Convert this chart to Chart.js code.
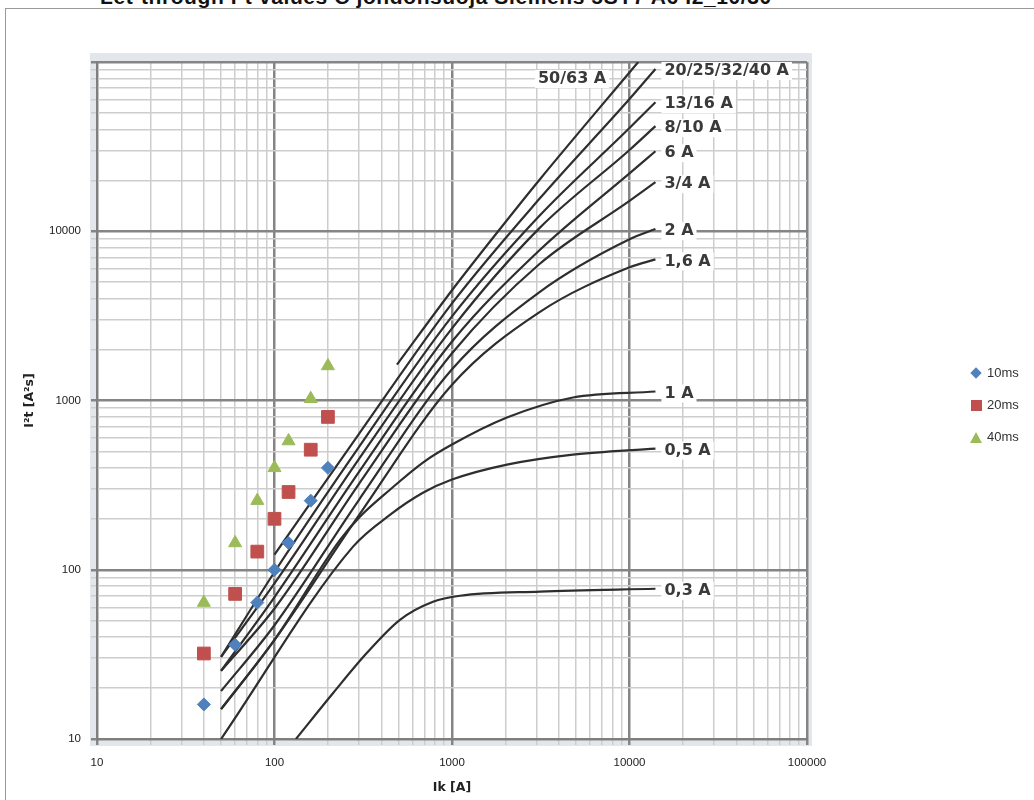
<!DOCTYPE html>
<html>
<head>
<meta charset="utf-8">
<script src="https://cdn.jsdelivr.net/npm/chart.js@4.4.0/dist/chart.umd.min.js"></script>
<style>
    body { margin: 0; background: #fff; overflow: hidden; }
    #contenedor { position: relative; width: 1034px; height: 800px; overflow: hidden; }
    #marco { position: absolute; left: 5px; top: 8px; width: 1100px; height: 900px; border: 1px solid #9a9a9a; }
    #titulo { position: absolute; left: 100px; top: -14px; font: bold 21px "Liberation Sans", Arial, sans-serif; line-height: 21px; letter-spacing: 0.6px; white-space: nowrap; color: #111; }
    canvas { position: absolute; left: 0; top: 0; }
    #leyenda { position: absolute; left: 969px; top: 364px; font: 13px "Liberation Sans", Arial, sans-serif; color: #333; }
    #leyenda .item { position: relative; height: 32px; line-height: 18px; padding-left: 18px; }
    #leyenda .mk { position: absolute; }
    .diamante { left: 3px; top: 5px; width: 8px; height: 8px; background: #4F81BD; transform: rotate(45deg); }
    .cuadrado { left: 1.5px; top: 3.5px; width: 11px; height: 11px; background: #C0504D; }
    .triangulo { left: 1px; top: 3.5px; width: 0; height: 0; border-left: 6px solid transparent; border-right: 6px solid transparent; border-bottom: 11px solid #9BBB59; }
</style>
</head>
<body>
<div id="contenedor">
    <div id="marco"></div>
    <div id="titulo">Let-through I²t values C johdonsuoja Siemens 5SY7 A6 I2_10/30</div>
    <canvas id="grafico" width="1034" height="800"></canvas>
    <div id="leyenda"></div>
</div>
<script>
// Ejes: etiquetas de las décadas
const decadas = [10, 100, 1000, 10000, 100000];

// Puntos medidos (Ik en A, I²t en A²s)
const ikMedidos = [40, 60, 80, 100, 120, 160, 200];
const serie10ms = [16, 36, 64, 100, 144, 256, 400];
const serie20ms = [32, 72, 128, 200, 288, 512, 800];
const serie40ms = [64, 144, 256, 400, 576, 1024, 1600];
const nombresSeries = ['10ms', '20ms', '40ms'];

// Curvas del fabricante
const ik5063 = [490, 1000, 1820, 3130, 11200];
const i2t5063 = [1630, 4480, 10000, 20300, 100000];
const ik2040 = [100, 300, 1000, 3100, 10000, 14000];
const i2t2040 = [123, 638, 3750, 15500, 60400, 90900];
const ikBase = [50, 100, 300, 1000, 3100, 10000, 14000];
const i2t1316 = [30.6, 97, 534, 3140, 12300, 40700, 57900];
const i2t810 = [30.6, 83, 454, 2670, 10400, 30200, 41800];
const i2t6 = [25.3, 69, 380, 2230, 7700, 22000, 29700];
const i2t34 = [25.3, 59, 323, 1900, 6380, 15100, 19500];
const i2t2 = [19.2, 47, 260, 1530, 4360, 8970, 10300];
const i2t16 = [15.0, 38.5, 211, 1240, 3320, 6120, 6820];
const ik1 = [50, 100, 234, 303, 447, 686, 1000, 2040, 4800, 14000];
const i2t1 = [15, 38.5, 150, 206, 297, 430, 549, 793, 1042, 1130];
const ik05 = [50, 277, 447, 686, 1000, 2040, 4800, 14000];
const i2t05 = [10, 137, 211, 285, 341, 418, 479, 520];
const ik03 = [132, 214, 332, 509, 782, 1110, 3130, 14000];
const i2t03 = [10, 18.7, 32.3, 50.6, 64.7, 70.2, 74.3, 77.2];

const curvas = [
    { etiqueta: '50/63 A', ik: ik5063, i2t: i2t5063, izquierda: true },
    { etiqueta: '20/25/32/40 A', ik: ik2040, i2t: i2t2040 },
    { etiqueta: '13/16 A', ik: ikBase, i2t: i2t1316 },
    { etiqueta: '8/10 A', ik: ikBase, i2t: i2t810 },
    { etiqueta: '6 A', ik: ikBase, i2t: i2t6 },
    { etiqueta: '3/4 A', ik: ikBase, i2t: i2t34 },
    { etiqueta: '2 A', ik: ikBase, i2t: i2t2 },
    { etiqueta: '1,6 A', ik: ikBase, i2t: i2t16 },
    { etiqueta: '1 A', ik: ik1, i2t: i2t1 },
    { etiqueta: '0,5 A', ik: ik05, i2t: i2t05 },
    { etiqueta: '0,3 A', ik: ik03, i2t: i2t03 }
];

function aPuntos(xs, ys) {
    return xs.map((x, i) => ({ x: x, y: ys[i] }));
}

// Ticks 1..9 de cada década, para la rejilla
function ticksLog(min, max) {
    const t = [];
    for (let d = min; d < max; d *= 10) {
        for (let k = 1; k < 10; k++) t.push({ value: Math.round(d * k) });
    }
    t.push({ value: max });
    return t;
}

const esDecada = v => decadas.includes(v);
const fuenteTicks = { family: '"Liberation Sans", Arial, sans-serif', size: 11.5 };
const fuenteTitulo = { family: '"DejaVu Sans", sans-serif', size: 12.5, weight: 'bold' };

const rejilla = {
    color: c => esDecada(c.tick.value) ? '#858585' : '#cdcdcd',
    lineWidth: c => esDecada(c.tick.value) ? 2.5 : 1.5,
    drawTicks: true,
    tickLength: 6
};

const datasets = [];
curvas.forEach(cv => {
    datasets.push({
        label: cv.etiqueta,
        etiqueta: cv.etiqueta,
        izquierda: !!cv.izquierda,
        data: aPuntos(cv.ik, cv.i2t),
        showLine: true,
        borderColor: '#2e2e2e',
        borderWidth: 2.2,
        pointRadius: 0,
        cubicInterpolationMode: 'monotone',
        order: 2
    });
});

const estilos = [
    { datos: serie10ms, color: '#4F81BD', forma: 'rectRot', radio: 6.5 },
    { datos: serie20ms, color: '#C0504D', forma: 'rect', radio: 9 },
    { datos: serie40ms, color: '#9BBB59', forma: 'triangle', radio: 7.5 }
];
estilos.forEach((e, i) => {
    datasets.push({
        label: nombresSeries[i],
        data: aPuntos(ikMedidos, e.datos),
        showLine: false,
        backgroundColor: e.color,
        borderColor: e.color,
        borderWidth: 1,
        pointStyle: e.forma,
        pointRadius: e.radio,
        order: 1
    });
});

// Fondo gris claro alrededor del área (marco de la imagen original)
const marcoImagen = {
    id: 'marcoImagen',
    beforeDraw(chart) {
        const { ctx: c, chartArea: a } = chart;
        c.save();
        c.fillStyle = '#e3e7eb';
        c.fillRect(a.left - 7, a.top - 9, a.right - a.left + 12, a.bottom - a.top + 16);
        c.fillStyle = '#fff';
        c.fillRect(a.left, a.top, a.right - a.left, a.bottom - a.top);
        c.restore();
    }
};

// Rótulos de cada curva al final de la línea
const etiquetasCurvas = {
    id: 'etiquetasCurvas',
    afterDatasetsDraw(chart) {
        const c = chart.ctx;
        c.save();
        c.font = 'bold 16px "DejaVu Sans", sans-serif';
        c.textBaseline = 'middle';
        chart.data.datasets.forEach((ds, i) => {
            if (!ds.etiqueta) return;
            const meta = chart.getDatasetMeta(i);
            const ult = meta.data[meta.data.length - 1];
            let x = ult.x + 9;
            let y = ult.y + 2;
            c.textAlign = 'left';
            if (ds.izquierda) {
                x = ult.x - 32;
                y = ult.y + 17;
                c.textAlign = 'right';
            }
            const w = c.measureText(ds.etiqueta).width;
            const x0 = ds.izquierda ? x - w : x;
            c.fillStyle = '#fff';
            c.fillRect(x0 - 3, y - 9, w + 6, 18);
            c.fillStyle = '#3a3a3a';
            c.fillText(ds.etiqueta, x, y);
        });
        c.restore();
    }
};

const ctx = document.getElementById('grafico').getContext('2d');
new Chart(ctx, {
    type: 'scatter',
    data: { datasets },
    options: {
        responsive: false,
        animation: false,
        devicePixelRatio: 1,
        layout: { padding: { left: 0, top: 62, right: 227, bottom: 0 } },
        plugins: {
            legend: { display: false },
            tooltip: { enabled: false },
            title: { display: false }
        },
        scales: {
            x: {
                type: 'logarithmic',
                position: 'bottom',
                min: 10,
                max: 100000,
                afterBuildTicks: s => { s.ticks = ticksLog(10, 100000); },
                afterFit: s => { s.height = 61; },
                ticks: {
                    autoSkip: false,
                    maxRotation: 0,
                    padding: 11,
                    color: '#222',
                    font: fuenteTicks,
                    callback: v => esDecada(v) ? String(v) : ''
                },
                grid: rejilla,
                border: { color: '#7f7f7f', width: 2 },
                title: { display: true, text: 'Ik [A]', color: '#222', font: fuenteTitulo, padding: { top: 0, bottom: 5 } }
            },
            y: {
                type: 'logarithmic',
                position: 'left',
                min: 10,
                max: 100000,
                afterBuildTicks: s => { s.ticks = ticksLog(10, 100000); },
                afterFit: s => { s.width = 97; },
                ticks: {
                    autoSkip: false,
                    padding: 10,
                    color: '#222',
                    font: fuenteTicks,
                    callback: v => (esDecada(v) && v < 100000) ? String(v) : ''
                },
                grid: rejilla,
                border: { color: '#7f7f7f', width: 2 },
                title: { display: true, text: 'I²t [A²s]', color: '#222', font: fuenteTitulo, padding: { top: 22, bottom: 0 } }
            }
        }
    },
    plugins: [marcoImagen, etiquetasCurvas]
});

// Leyenda a la derecha (solo las series medidas)
const clases = ['diamante', 'cuadrado', 'triangulo'];
const leyenda = document.getElementById('leyenda');
nombresSeries.forEach((n, i) => {
    const item = document.createElement('div');
    item.className = 'item';
    item.innerHTML = `<span class="mk ${clases[i]}"></span>${n}`;
    leyenda.appendChild(item);
});
</script>
</body>
</html>
